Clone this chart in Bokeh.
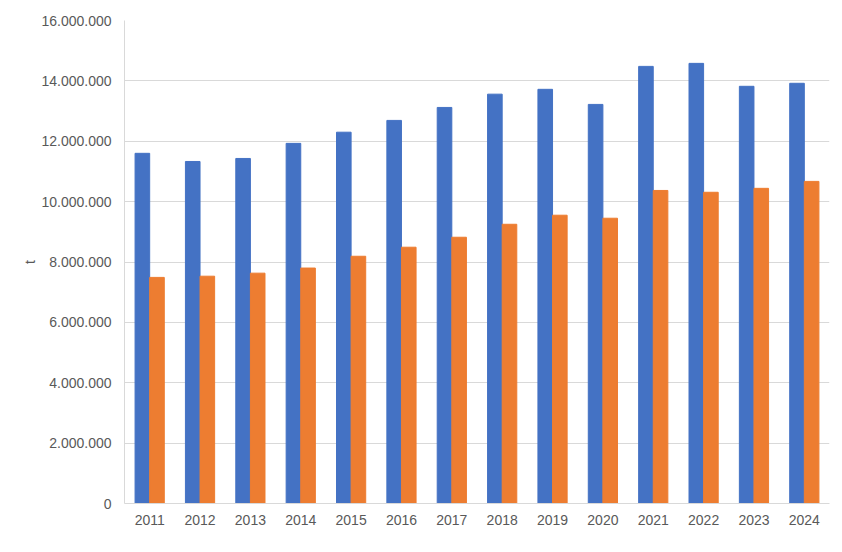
from bokeh.embed import file_html
from bokeh.models import (ColumnDataSource,
                          CustomJSTickFormatter,
                          FactorRange,
                          FixedTicker,
                          Range1d)
from bokeh.plotting import figure
from bokeh.resources import INLINE
from bokeh.transform import dodge

years = ['2011', '2012', '2013', '2014', '2015', '2016', '2017',
         '2018', '2019', '2020', '2021', '2022', '2023', '2024']

series_blue = [11600000, 11330000, 11430000, 11930000, 12300000, 12690000,
               13120000, 13560000, 13720000, 13220000, 14480000, 14580000,
               13820000, 13920000]

series_orange = [7490000, 7530000, 7630000, 7800000, 8190000, 8490000,
                 8820000, 9250000, 9550000, 9450000, 10370000, 10310000,
                 10440000, 10670000]

y_ticks = [0, 2000000, 4000000, 6000000, 8000000, 10000000, 12000000,
           14000000, 16000000]

source = ColumnDataSource(data=dict(year=years,
                                    blue=series_blue,
                                    orange=series_orange))

p = figure(width=834, height=544,
           x_range=FactorRange(*years),
           y_range=Range1d(0, 16000000),
           output_backend="svg",
           toolbar_location=None,
           min_border_left=124,
           min_border_right=5,
           min_border_top=20,
           min_border_bottom=41)

p.vbar(x=dodge('year', -0.145, range=p.x_range), top='blue', width=0.29,
       source=source, color="#4472C4")
p.vbar(x=dodge('year', 0.145, range=p.x_range), top='orange', width=0.29,
       source=source, color="#ED7D31")

p.outline_line_color = None
p.xgrid.grid_line_color = None
p.ygrid.grid_line_color = "#d9d9d9"
p.ygrid.ticker = FixedTicker(ticks=y_ticks)

p.yaxis.ticker = FixedTicker(ticks=y_ticks)
p.yaxis.formatter = CustomJSTickFormatter(
    code="return tick.toFixed(0).replace(/\\B(?=(\\d{3})+(?!\\d))/g, '.');")
p.yaxis.axis_label = "t"
p.yaxis.axis_label_standoff = 0
p.yaxis.axis_label_text_font_style = "normal"
p.yaxis.axis_label_text_font_size = "14px"
p.yaxis.axis_label_text_color = "#595959"

for axis in (p.xaxis, p.yaxis):
    axis.axis_line_color = "#d9d9d9"
    axis.major_tick_line_color = None
    axis.minor_tick_line_color = None
    axis.major_label_text_font = "Liberation Sans"
    axis.major_label_text_font_size = "14px"
    axis.major_label_text_color = "#595959"
    axis.axis_label_text_font = "Liberation Sans"

p.xaxis.major_label_standoff = 5
p.yaxis.major_label_standoff = 7

open("out.html", "w").write(file_html(p, INLINE))
